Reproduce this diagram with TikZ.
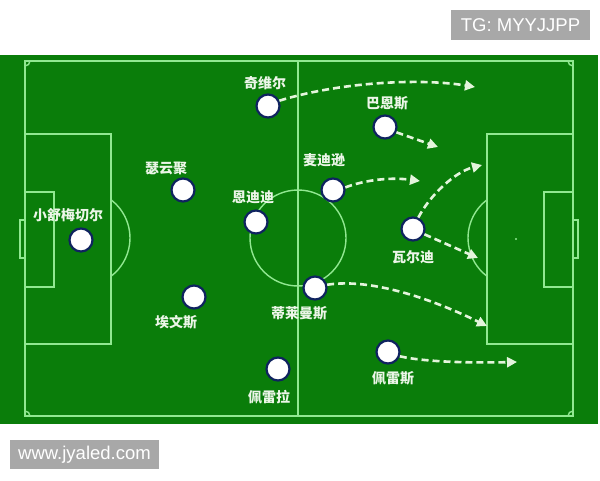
\documentclass[tikz,border=0pt]{standalone}
\usepackage{fontspec}
\setsansfont{Liberation Sans}
\newfontfamily\cjk{Noto Sans CJK SC}
\usetikzlibrary{arrows.meta}
\definecolor{pitch}{RGB}{10,125,10}
\definecolor{pline}{RGB}{145,232,145}
\definecolor{arrowc}{RGB}{228,245,220}
\definecolor{navy}{RGB}{15,35,95}
\definecolor{wmgray}{RGB}{168,168,168}
\definecolor{lblc}{RGB}{236,246,232}
\begin{document}
\begin{tikzpicture}[x=1pt,y=-1pt,
  fieldline/.style={draw=pline,line width=1.4pt},
  player/.style={circle,fill=white,draw=navy,line width=2.2pt,minimum size=23pt,inner sep=0pt},
  lbl/.style={text=lblc,font=\cjk\bfseries\fontsize{14}{15}\selectfont,inner sep=0pt},
  run/.style={draw=arrowc,line width=2.6pt,dash pattern=on 7pt off 4pt,-{Triangle[length=10pt,width=10pt]}},
  wmbox/.style={fill=wmgray,text=white,font=\sffamily\fontsize{18.5}{20}\selectfont,inner sep=0pt}
]
\useasboundingbox (0,0) rectangle (600,480);
\fill[white] (0,0) rectangle (600,480);
\fill[pitch] (0,55) rectangle (598,424);
% field markings
\draw[fieldline] (25,61) rectangle (573,416);
\draw[fieldline] (298,61) -- (298,416);
\draw[fieldline] (298,238) circle[radius=48pt];
\draw[fieldline] (25,134) rectangle (111,344);
\draw[fieldline] (25,192) rectangle (54,287);
\draw[fieldline] (20,220) rectangle (25,258);
\draw[fieldline] (111,199.8) arc[start angle=52.8,end angle=-52.8,radius=48pt];
\draw[fieldline] (487,134) rectangle (573,344);
\draw[fieldline] (544,192) rectangle (573,287);
\draw[fieldline] (573,220) rectangle (578,258);
\draw[fieldline] (487,199.8) arc[start angle=127.2,end angle=232.8,radius=48pt];
\fill[pline] (516,239) circle[radius=1.2pt];
\draw[fieldline] (30,61) arc[start angle=0,end angle=-90,radius=5pt];
\draw[fieldline] (568,61) arc[start angle=180,end angle=270,radius=5pt];
\draw[fieldline] (25,411) arc[start angle=90,end angle=0,radius=5pt];
\draw[fieldline] (568,416) arc[start angle=180,end angle=90,radius=5pt];
% players
\node[player] (qwe) at (268,106) {};
\node[player] (syj) at (183,190) {};
\node[player] (edd) at (256,222) {};
\node[player] (xsm) at (81,240) {};
\node[player] (awe) at (194,297) {};
\node[player] (plr) at (278,369) {};
\node[player] (ben) at (385,127) {};
\node[player] (mdx) at (333,190) {};
\node[player] (wed) at (413,229) {};
\node[player] (dlm) at (315,288) {};
\node[player] (pls) at (388,352) {};
% labels
\node[lbl] (lqwe) at (265,83) {奇维尔};
\node[lbl] (lsyj) at (166,168) {瑟云聚};
\node[lbl] (ledd) at (253,197) {恩迪迪};
\node[lbl] (lxsm) at (68,215) {小舒梅切尔};
\node[lbl] (lawe) at (176,322) {埃文斯};
\node[lbl] (lplr) at (269,397) {佩雷拉};
\node[lbl] (lben) at (387,103) {巴恩斯};
\node[lbl] (lmdx) at (324,160) {麦迪逊};
\node[lbl] (lwed) at (413,257) {瓦尔迪};
\node[lbl] (ldlm) at (299,313) {蒂莱曼斯};
\node[lbl] (lpls) at (393,378) {佩雷斯};
% arrow ends
\coordinate (e1) at (475,87);
\coordinate (e2) at (438,147);
\coordinate (e3) at (420,181);
\coordinate (e4) at (482,165);
\coordinate (e5) at (478,258);
\coordinate (e6) at (487,326);
\coordinate (e7) at (517,362);
\draw[run] (qwe.25) .. controls (340,82) and (420,78) .. (e1);
\draw[run] (ben.-25) -- (e2);
\draw[run] (mdx.12) .. controls (365,180) and (390,177) .. (e3);
\draw[run] (wed.65) .. controls (430,195) and (455,172) .. (e4);
\draw[run] (wed.-25) -- (e5);
\draw[run] (dlm.15) .. controls (370,278) and (430,298) .. (e6);
\draw[run] (pls.-20) .. controls (425,362) and (470,363) .. (e7);
% watermarks
\node[wmbox,minimum width=139pt,minimum height=30pt] (tg) at (520.5,25) {TG: MYYJJPP};
\node[wmbox,minimum width=149pt,minimum height=29pt] (www) at (84.5,454.5) {www.jyaled.com};
\end{tikzpicture}
\end{document}
